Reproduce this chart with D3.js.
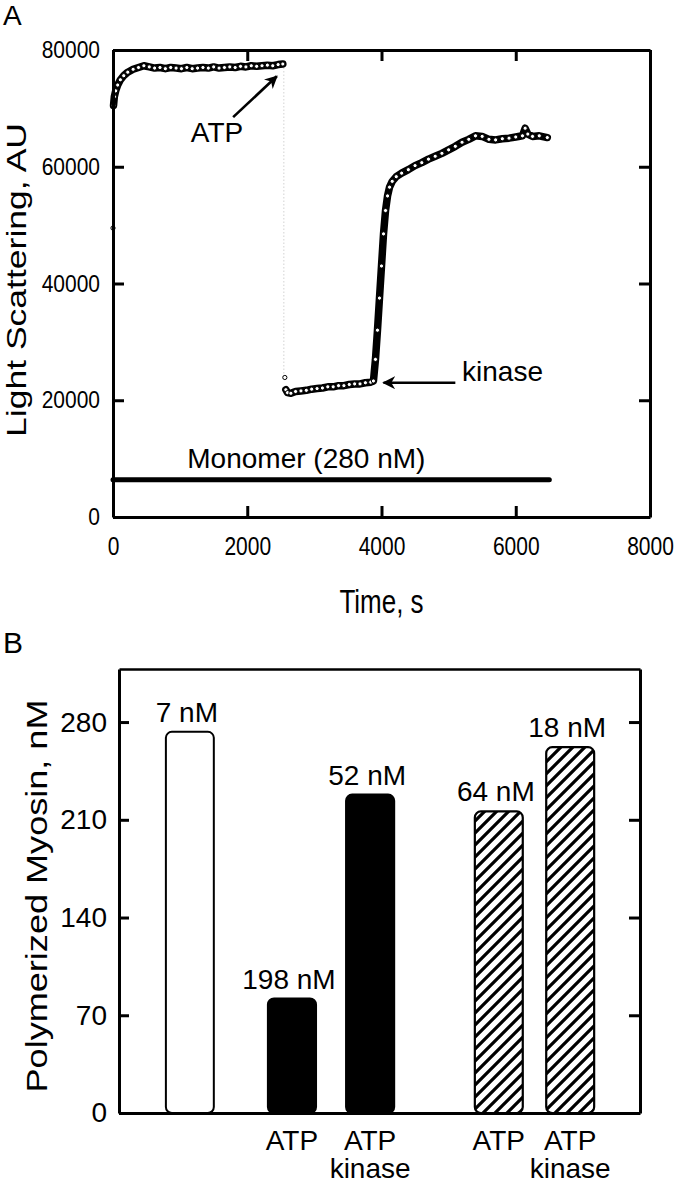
<!DOCTYPE html>
<html><head><meta charset="utf-8">
<script src="https://cdn.jsdelivr.net/npm/d3@7"></script>
<style>
body{margin:0;background:#fff}
svg{display:block;font-family:"Liberation Sans",Arial,Helvetica,sans-serif}
</style>
</head><body>
<svg id="chart" width="678" height="1183"></svg>
<script>
// ---------- Panel A data ----------
const preTime   = [0, 8, 20, 40, 70, 110, 160, 220, 300, 380, 460, 540, 620, 700, 780, 860, 940, 1020, 1100, 1180, 1260, 1340, 1420, 1500, 1580, 1660, 1740, 1820, 1900, 1980, 2060, 2140, 2220, 2300, 2380, 2460, 2530];
const preSignal = [49500, 70500, 72000, 73000, 74000, 74900, 75600, 76200, 76700, 77000, 77300, 77100, 76900, 77000, 76800, 77000, 76900, 76800, 77000, 76800, 76900, 77000, 76900, 77100, 76900, 77000, 77100, 77000, 77200, 77100, 77300, 77200, 77300, 77400, 77300, 77500, 77600];
const postTime   = [2560, 2575, 2600, 2650, 2720, 2800, 2880, 2960, 3040, 3120, 3200, 3280, 3360, 3440, 3520, 3600, 3680, 3760, 3840, 3880, 3910, 3940, 3970, 4000, 4030, 4060, 4090, 4120, 4160, 4220, 4300, 4400, 4500, 4600, 4700, 4800, 4900, 5000, 5100, 5200, 5300, 5400, 5500, 5600, 5700, 5800, 5900, 6000, 6100, 6140, 6180, 6250, 6350, 6470];
const postSignal = [23900, 21800, 21300, 21200, 21500, 21600, 21700, 21900, 22000, 22100, 22300, 22300, 22500, 22500, 22700, 22800, 22800, 23000, 23100, 23300, 27000, 32000, 37500, 43000, 48500, 52500, 55000, 56500, 57500, 58300, 58900, 59500, 60200, 60700, 61300, 61800, 62300, 62900, 63500, 64200, 64700, 65300, 65200, 64700, 64600, 64800, 64900, 65100, 65300, 66600, 65600, 65200, 65300, 65000];
const monomerTime   = [0, 6500];
const monomerSignal = [6400, 6400];
const xTicksA = [0, 2000, 4000, 6000, 8000];
const yTicksA = [0, 20000, 40000, 60000, 80000];
const atpArrow    = {from: [1790, 68500], to: [2440, 75500], label: "ATP", labelAt: [1160, 64300]};
const kinaseArrow = {from: [5100, 23000], to: [4030, 23000], label: "kinase", labelAt: [5200, 23300]};
const monomerLabel = {text: "Monomer (280 nM)", at: [2880, 8400]};

// ---------- Panel B data ----------
const barCategories = ["none", "ATP", "ATP kinase", "ATP (hatched)", "ATP kinase (hatched)"];
const barValues  = [273, 82, 228, 216, 262];
const barLabels  = ["7 nM", "198 nM", "52 nM", "64 nM", "18 nM"];
const barSlot    = [1.36, 3.32, 4.82, 7.29, 8.66];
const barStyle   = ["open", "solid", "solid", "hatch", "hatch"];
const barXLabels = [[], ["ATP"], ["ATP", "kinase"], ["ATP"], ["ATP", "kinase"]];
const yTicksB = [0, 70, 140, 210, 280];

const svg = d3.select("#chart");
const defs = svg.append("defs");
defs.append("marker").attr("id", "arrow").attr("viewBox", "0 0 10 10")
  .attr("refX", 9).attr("refY", 5).attr("markerWidth", 5).attr("markerHeight", 5)
  .attr("markerUnits", "strokeWidth").attr("orient", "auto")
  .append("path").attr("d", "M0,0 L10,5 L0,10 L3,5 Z").attr("fill", "#000");
const pat = defs.append("pattern").attr("id", "hatch").attr("patternUnits", "userSpaceOnUse")
  .attr("width", 12).attr("height", 12);
pat.append("path").attr("d", "M-3,3 L3,-3 M0,12 L12,0 M9,15 L15,9")
  .attr("stroke", "#000").attr("stroke-width", 3.2);

const fmt = d3.format("d");

// ================= PANEL A =================
const xA = d3.scaleLinear().domain([0, 8000]).range([113, 650]);
const yA = d3.scaleLinear().domain([0, 80000]).range([517, 50]);
const gA = svg.append("g");

gA.append("text").attr("x", 3).attr("y", 25).attr("font-size", 28).text("A");

// faint connector between the two runs
gA.append("line")
  .attr("x1", xA(preTime[preTime.length - 1]) + 1).attr("y1", yA(preSignal[preSignal.length - 1]))
  .attr("x2", xA(postTime[0]) - 1).attr("y2", yA(postSignal[0]))
  .attr("stroke", "#c8c8c8").attr("stroke-width", 0.8).attr("stroke-dasharray", "1.5,2");

function trace(times, values) {
  const pts = times.map((t, i) => [t, values[i]]);
  const line = d3.line().x(d => xA(d[0])).y(d => yA(d[1]));
  gA.append("path").attr("d", line(pts.slice(1))).attr("fill", "none")
    .attr("stroke", "#000").attr("stroke-width", 7.5).attr("stroke-linejoin", "round").attr("stroke-linecap", "round");
  gA.append("g").selectAll("circle").data(pts).join("circle")
    .attr("cx", d => xA(d[0])).attr("cy", d => yA(d[1])).attr("r", 2.1)
    .attr("fill", "#fff").attr("stroke", "#000").attr("stroke-width", 1);
}
trace(preTime, preSignal);
trace(postTime, postSignal);

// monomer line
gA.append("line")
  .attr("x1", xA(monomerTime[0])).attr("x2", xA(monomerTime[1]))
  .attr("y1", yA(monomerSignal[0])).attr("y2", yA(monomerSignal[1]))
  .attr("stroke", "#000").attr("stroke-width", 5).attr("stroke-linecap", "round");
gA.append("text").attr("x", xA(monomerLabel.at[0])).attr("y", yA(monomerLabel.at[1]))
  .attr("text-anchor", "middle").attr("font-size", 28).text(monomerLabel.text);

// arrows
[atpArrow, kinaseArrow].forEach(a => {
  gA.append("line")
    .attr("x1", xA(a.from[0])).attr("y1", yA(a.from[1]))
    .attr("x2", xA(a.to[0])).attr("y2", yA(a.to[1]))
    .attr("stroke", "#000").attr("stroke-width", 2.6).attr("marker-end", "url(#arrow)");
  gA.append("text").attr("x", xA(a.labelAt[0])).attr("y", yA(a.labelAt[1]))
    .attr("font-size", 28).text(a.label);
});

// axes (inward ticks)
const tl = 11;
const axLeftA = gA.append("g").attr("transform", `translate(${xA(0)},0)`)
  .call(d3.axisLeft(yA).tickValues(yTicksA).tickFormat(fmt).tickSize(-tl).tickSizeOuter(0).tickPadding(13));
const axBottomA = gA.append("g").attr("transform", `translate(0,${yA(0)})`)
  .call(d3.axisBottom(xA).tickValues(xTicksA).tickFormat(fmt).tickSize(-tl).tickSizeOuter(0).tickPadding(17));
const axTopA = gA.append("g").attr("transform", `translate(0,${yA(80000)})`)
  .call(d3.axisTop(xA).tickValues(xTicksA).tickSize(-tl).tickSizeOuter(0).tickFormat(""));
const axRightA = gA.append("g").attr("transform", `translate(${xA(8000)},0)`)
  .call(d3.axisRight(yA).tickValues(yTicksA).tickSize(-tl).tickSizeOuter(0).tickFormat(""));
[axLeftA, axBottomA, axTopA, axRightA].forEach(ax => {
  ax.select(".domain").attr("stroke", "#000").attr("stroke-width", 3);
  ax.selectAll(".tick line").attr("stroke", "#000").attr("stroke-width", 3);
  ax.selectAll("text").attr("font-size", 21).attr("fill", "#000")
    .attr("font-family", '"Liberation Sans",Arial,sans-serif');
});
axBottomA.selectAll(".tick text").attr("transform", "scale(1,1.2)");
axLeftA.selectAll(".tick text").attr("transform", "scale(1,1.12)");

gA.append("text").attr("x", xA(4000)).attr("y", 613).attr("text-anchor", "middle")
  .attr("font-size", 26).attr("transform", `translate(0,${613 * -0.3}) scale(1,1.3)`).text("Time, s");
gA.append("text").attr("text-anchor", "middle").attr("font-size", 28)
  .attr("transform", "translate(26,280) rotate(-90)")
  .attr("textLength", 314).attr("lengthAdjust", "spacingAndGlyphs")
  .text("Light Scattering, AU");

// ================= PANEL B =================
const xB = d3.scaleLinear().domain([0, 10]).range([119, 640]);
const yB = d3.scaleLinear().domain([0, 318]).range([1113, 669]);
const gB = svg.append("g");
gB.append("text").attr("x", 3).attr("y", 653).attr("font-size", 30).text("B");

const bw = xB(0.92) - xB(0);
const bars = barCategories.map((c, i) => ({c, v: barValues[i], slot: barSlot[i], style: barStyle[i], label: barLabels[i], xl: barXLabels[i]}));

gB.append("g").selectAll("rect").data(bars).join("rect")
  .attr("x", d => xB(d.slot) - bw / 2).attr("width", bw)
  .attr("y", d => yB(d.v)).attr("height", d => yB(0) - yB(d.v))
  .attr("rx", 6).attr("ry", 6)
  .attr("fill", d => d.style === "solid" ? "#000" : d.style === "hatch" ? "url(#hatch)" : "#fff")
  .attr("stroke", "#000").attr("stroke-width", d => d.style === "open" ? 2 : 2.2);

gB.append("g").selectAll("text").data(bars).join("text")
  .attr("x", d => xB(d.slot) - 3).attr("y", d => yB(d.v) - 10)
  .attr("text-anchor", "middle").attr("font-size", 28).text(d => d.label);

const xl = gB.append("g").selectAll("text").data(bars).join("text")
  .attr("text-anchor", "middle").attr("font-size", 28);
xl.each(function(d) {
  d3.select(this).selectAll("tspan").data(d.xl).join("tspan")
    .attr("x", xB(d.slot)).attr("y", (t, j) => 1150 + j * 28).text(t => t);
});

const axLeftB = gB.append("g").attr("transform", `translate(${xB(0)},0)`)
  .call(d3.axisLeft(yB).tickValues(yTicksB).tickSize(-10).tickSizeOuter(0).tickPadding(12));
const axRightB = gB.append("g").attr("transform", `translate(${xB(10)},0)`)
  .call(d3.axisRight(yB).tickValues(yTicksB).tickSize(-11).tickSizeOuter(0).tickFormat(""));
const axBottomB = gB.append("g").attr("transform", `translate(0,${yB(0)})`)
  .call(d3.axisBottom(xB).tickValues([]).tickSizeOuter(0));
const axTopB = gB.append("g").attr("transform", `translate(0,${yB(318)})`)
  .call(d3.axisTop(xB).tickValues([]).tickSizeOuter(0));
[axLeftB, axRightB, axBottomB, axTopB].forEach(ax => {
  ax.select(".domain").attr("stroke", "#000").attr("stroke-width", 3);
  ax.selectAll(".tick line").attr("stroke", "#000").attr("stroke-width", 3);
  ax.selectAll("text").attr("font-size", 28).attr("fill", "#000")
    .attr("font-family", '"Liberation Sans",Arial,sans-serif');
});
axTopB.select(".domain").attr("stroke-width", 2.5);

gB.append("text").attr("text-anchor", "middle").attr("font-size", 30)
  .attr("transform", "translate(47,896) rotate(-90)")
  .attr("textLength", 393).attr("lengthAdjust", "spacingAndGlyphs")
  .text("Polymerized Myosin, nM");
</script>
</body></html>
